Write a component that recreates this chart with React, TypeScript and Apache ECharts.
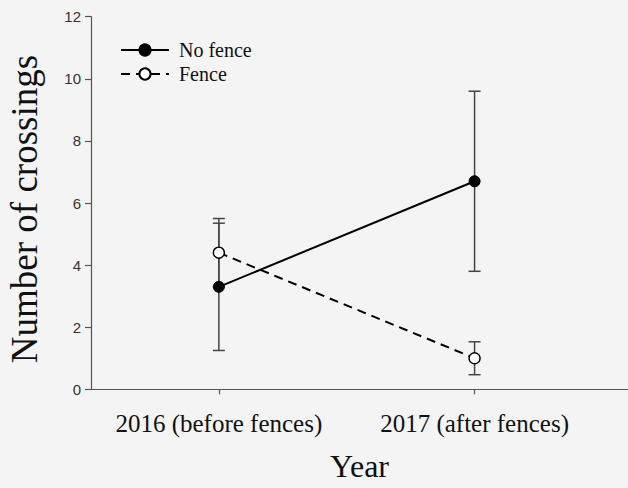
import React, { useEffect, useRef } from "react";
import * as echarts from "echarts";

const years = ["2016 (before fences)", "2017 (after fences)"];
const yearPos = [1, 2];
const noFenceMean = [3.3, 6.7];
const noFenceLow = [1.25, 3.8];
const noFenceHigh = [5.35, 9.6];
const fenceMean = [4.4, 1.0];
const fenceLow = [3.3, 0.47];
const fenceHigh = [5.5, 1.53];
const yTicks = [0, 2, 4, 6, 8, 10, 12];

const SERIF = "'Liberation Serif', 'Times New Roman', serif";
const SANS = "'Liberation Sans', Arial, sans-serif";

export default function App() {
  const ref = useRef<HTMLDivElement>(null);
  useEffect(() => {
    if (!ref.current) return;
    const chart = echarts.init(ref.current, null, { renderer: "svg" });
    const errData: number[][] = [];
    yearPos.forEach((x, i) => {
      errData.push([x, noFenceLow[i], noFenceHigh[i]]);
      errData.push([x, fenceLow[i], fenceHigh[i]]);
    });
    chart.setOption({
      animation: false,
      backgroundColor: "#f4f4f4",
      grid: {
        left: 91,
        right: 0,
        top: 16.7,
        bottom: 98.7,
        containLabel: false,
        outerBoundsMode: "none",
      },
      legend: {
        left: 115,
        top: 35,
        orient: "vertical",
        itemWidth: 48,
        itemHeight: 14,
        itemGap: 4,
        textStyle: { fontFamily: SERIF, fontSize: 20, color: "#111", padding: [0, 0, 0, 5] },
        data: ["No fence", "Fence"],
      },
      xAxis: {
        type: "value",
        min: 0.5,
        max: 2.6,
        name: "Year",
        nameLocation: "middle",
        nameGap: 61,
        nameTextStyle: { fontFamily: SERIF, fontSize: 32, color: "#111" },
        axisLine: { show: true, lineStyle: { color: "#555", width: 1.2 } },
        axisTick: { show: true, customValues: yearPos, length: 5, lineStyle: { color: "#555", width: 1.2 } },
        axisLabel: {
          customValues: yearPos,
          margin: 22,
          fontFamily: SERIF,
          fontSize: 25,
          color: "#111",
          formatter: (v: number) => years[yearPos.indexOf(v)] ?? "",
        },
        splitLine: { show: false },
      },
      yAxis: {
        type: "value",
        min: 0,
        max: 12,
        interval: 2,
        name: "Number of crossings",
        nameLocation: "middle",
        nameGap: 48,
        nameTextStyle: { fontFamily: SERIF, fontSize: 37, color: "#111", padding: [0, 12, 0, 0] },
        axisLine: { show: true, lineStyle: { color: "#555", width: 1.2 } },
        axisTick: { show: true, length: 6, lineStyle: { color: "#555", width: 1.2 } },
        axisLabel: {
          margin: 10,
          fontFamily: SANS,
          fontSize: 15,
          color: "#333",
          formatter: (v: number) => (yTicks.includes(v) ? String(v) : ""),
        },
        splitLine: { show: false },
      },
      series: [
        {
          type: "custom",
          name: "err",
          data: errData,
          z: 1,
          silent: true,
          renderItem: (params: any, api: any) => {
            const x = api.value(0);
            const lo = api.coord([x, api.value(1)]);
            const hi = api.coord([x, api.value(2)]);
            const hw = 6;
            const style = { stroke: "#444", lineWidth: 1.5 };
            return {
              type: "group",
              children: [
                { type: "line", shape: { x1: lo[0], y1: lo[1], x2: hi[0], y2: hi[1] }, style },
                { type: "line", shape: { x1: lo[0] - hw, y1: lo[1], x2: lo[0] + hw, y2: lo[1] }, style },
                { type: "line", shape: { x1: hi[0] - hw, y1: hi[1], x2: hi[0] + hw, y2: hi[1] }, style },
              ],
            };
          },
        },
        {
          type: "line",
          name: "No fence",
          data: yearPos.map((x, i) => [x, noFenceMean[i]]),
          z: 3,
          symbol: "circle",
          symbolSize: 11,
          lineStyle: { color: "#000", width: 2 },
          itemStyle: { color: "#000", borderColor: "#000", borderWidth: 1 },
        },
        {
          type: "line",
          name: "Fence",
          data: yearPos.map((x, i) => [x, fenceMean[i]]),
          z: 3,
          symbol: "circle",
          symbolSize: 11,
          lineStyle: { color: "#000", width: 2, type: [9, 6] },
          itemStyle: { color: "#fff", borderColor: "#000", borderWidth: 1.4 },
        },
      ],
    });
    return () => chart.dispose();
  }, []);
  return (
    <div
      ref={ref}
      style={{ position: "absolute", left: 0, top: 0, width: 628, height: 488 }}
    />
  );
}
